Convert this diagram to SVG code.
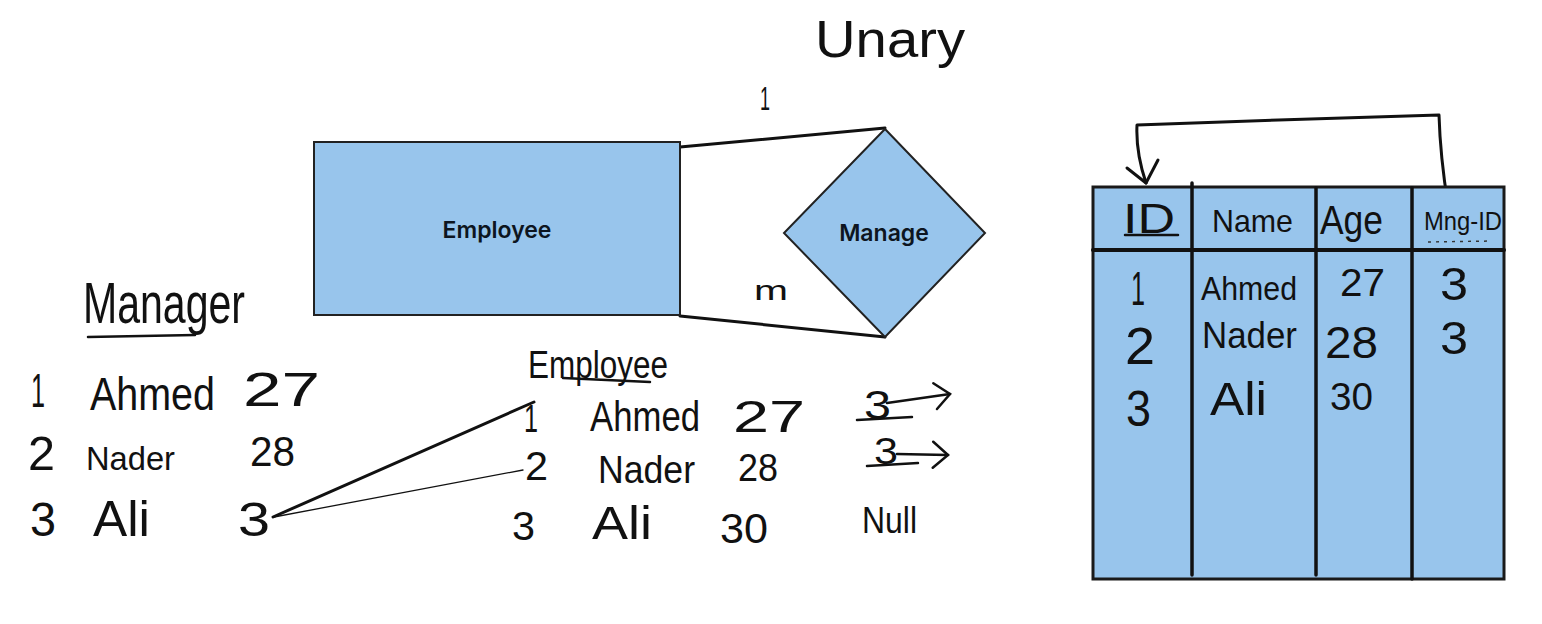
<svg xmlns="http://www.w3.org/2000/svg" width="1542" height="624" viewBox="0 0 1542 624">
<style>
.hw{font-family:"Liberation Sans","DejaVu Sans",sans-serif;fill:#111;}
.lbl{font-family:Inter,"Open Sans",sans-serif;font-weight:600;font-size:23px;fill:#0d1520;text-anchor:middle;}
.shape{fill:#98c5ec;stroke:#222;stroke-width:2;}
.ink{fill:none;stroke:#111;stroke-linecap:round;stroke-linejoin:round;}
</style>
<defs>
<marker id="openv" viewBox="0 0 20 30" refX="18" refY="15" markerWidth="20" markerHeight="30" markerUnits="userSpaceOnUse" orient="auto">
<path d="M3,2 L18,15 L3,28" fill="none" stroke="#111" stroke-width="2.5" stroke-linecap="round"/>
</marker>
</defs>
<rect width="1542" height="624" fill="#fff"/>

<g id="title">
<text class="hw" x="815" y="57" font-size="52" textLength="150" lengthAdjust="spacingAndGlyphs">Unary</text>
</g>

<g id="connectors">
<path class="ink" d="M680,147 L885,128" stroke-width="3"/>
<path class="ink" d="M680,316 L885,337" stroke-width="3"/>
<path class="ink" d="M273,517 L534,402" stroke-width="3"/>
<path class="ink" d="M274,517 L523,470" stroke-width="1.3"/>
<path class="ink" d="M1448,205 C1444,180 1440,150 1439,115 C1350,118 1230,121 1137,125 C1136,145 1140,165 1146,183" stroke-width="3"/>
<path class="ink" d="M1127,168 L1146,183 L1158,160" stroke-width="3"/>
</g>

<g id="employee">
<rect class="shape" x="314" y="142" width="366" height="173"/>
<text class="lbl" x="497" y="238">Employee</text>
</g>

<g id="manage">
<polygon class="shape" points="885,129 985,233 885,337 784,233"/>
<text class="lbl" x="884" y="241">Manage</text>
</g>

<g id="cardinalities">
<text class="hw" x="760" y="110" font-size="34" textLength="10" lengthAdjust="spacingAndGlyphs">1</text>
<text class="hw" x="754" y="300" font-size="28" textLength="34" lengthAdjust="spacingAndGlyphs">m</text>
</g>

<g id="manager-list">
<text class="hw" x="83" y="323" font-size="58" textLength="162" lengthAdjust="spacingAndGlyphs">Manager</text>
<line class="ink" x1="88" y1="337" x2="195" y2="335" stroke-width="2.5"/>
<text class="hw" x="31" y="407" font-size="48" textLength="14" lengthAdjust="spacingAndGlyphs">1</text>
<text class="hw" x="90" y="410" font-size="46" textLength="125" lengthAdjust="spacingAndGlyphs">Ahmed</text>
<text class="hw" x="243" y="406" font-size="48" textLength="77" lengthAdjust="spacingAndGlyphs">27</text>
<text class="hw" x="28" y="470" font-size="48" textLength="27" lengthAdjust="spacingAndGlyphs">2</text>
<text class="hw" x="86" y="470" font-size="34" textLength="89" lengthAdjust="spacingAndGlyphs">Nader</text>
<text class="hw" x="250" y="466" font-size="42" textLength="45" lengthAdjust="spacingAndGlyphs">28</text>
<text class="hw" x="30" y="536" font-size="48" textLength="26" lengthAdjust="spacingAndGlyphs">3</text>
<text class="hw" x="93" y="536" font-size="50" textLength="57" lengthAdjust="spacingAndGlyphs">Ali</text>
<text class="hw" x="238" y="536" font-size="48" textLength="32" lengthAdjust="spacingAndGlyphs">3</text>
</g>

<g id="employee-list">
<text class="hw" x="528" y="378" font-size="38" textLength="140" lengthAdjust="spacingAndGlyphs">Employee</text>
<line class="ink" x1="563" y1="378" x2="650" y2="382" stroke-width="2.5"/>
<text class="hw" x="524" y="432" font-size="38" textLength="14" lengthAdjust="spacingAndGlyphs">1</text>
<text class="hw" x="590" y="431" font-size="42" textLength="110" lengthAdjust="spacingAndGlyphs">Ahmed</text>
<text class="hw" x="733" y="432" font-size="44" textLength="72" lengthAdjust="spacingAndGlyphs">27</text>
<text class="hw" x="525" y="480" font-size="40" textLength="23" lengthAdjust="spacingAndGlyphs">2</text>
<text class="hw" x="598" y="483" font-size="38" textLength="97" lengthAdjust="spacingAndGlyphs">Nader</text>
<text class="hw" x="738" y="481" font-size="38" textLength="40" lengthAdjust="spacingAndGlyphs">28</text>
<text class="hw" x="512" y="540" font-size="40" textLength="23" lengthAdjust="spacingAndGlyphs">3</text>
<text class="hw" x="592" y="539" font-size="46" textLength="60" lengthAdjust="spacingAndGlyphs">Ali</text>
<text class="hw" x="720" y="543" font-size="42" textLength="48" lengthAdjust="spacingAndGlyphs">30</text>
<text class="hw" x="864" y="419" font-size="40" textLength="27" lengthAdjust="spacingAndGlyphs">3</text>
<line class="ink" x1="857" y1="420" x2="912" y2="417" stroke-width="2.5"/>
<line class="ink" x1="887" y1="403" x2="950" y2="394" stroke-width="2.5" marker-end="url(#openv)"/>
<text class="hw" x="874" y="464" font-size="36" textLength="24" lengthAdjust="spacingAndGlyphs">3</text>
<line class="ink" x1="867" y1="466" x2="918" y2="463" stroke-width="2.5"/>
<line class="ink" x1="897" y1="454" x2="948" y2="455" stroke-width="2.5" marker-end="url(#openv)"/>
<text class="hw" x="862" y="533" font-size="36" textLength="55" lengthAdjust="spacingAndGlyphs">Null</text>
</g>

<g id="table">
<rect x="1093" y="187" width="411" height="392" fill="#98c5ec" stroke="#1a1a1a" stroke-width="3"/>
<line class="ink" x1="1093" y1="250" x2="1504" y2="250" stroke-width="4"/>
<line class="ink" x1="1192" y1="183" x2="1192" y2="575" stroke-width="3.5"/>
<line class="ink" x1="1316" y1="188" x2="1316" y2="575" stroke-width="3.5"/>
<line class="ink" x1="1412" y1="188" x2="1412" y2="579" stroke-width="3.5"/>
<text class="hw" x="1123" y="233" font-size="42" textLength="52" lengthAdjust="spacingAndGlyphs">ID</text>
<line class="ink" x1="1125" y1="235" x2="1178" y2="235" stroke-width="2.5"/>
<text class="hw" x="1212" y="232" font-size="32" textLength="81" lengthAdjust="spacingAndGlyphs">Name</text>
<text class="hw" x="1320" y="234" font-size="40" textLength="63" lengthAdjust="spacingAndGlyphs">Age</text>
<text class="hw" x="1424" y="230" font-size="26" textLength="78" lengthAdjust="spacingAndGlyphs">Mng-ID</text>
<line x1="1428" y1="242" x2="1492" y2="241" stroke="#333" stroke-width="1.5" stroke-dasharray="3,5"/>
<text class="hw" x="1131" y="305" font-size="48" textLength="14" lengthAdjust="spacingAndGlyphs">1</text>
<text class="hw" x="1201" y="300" font-size="34" textLength="96" lengthAdjust="spacingAndGlyphs">Ahmed</text>
<text class="hw" x="1340" y="296" font-size="38" textLength="45" lengthAdjust="spacingAndGlyphs">27</text>
<text class="hw" x="1440" y="300" font-size="46" textLength="28" lengthAdjust="spacingAndGlyphs">3</text>
<text class="hw" x="1125" y="364" font-size="52" textLength="30" lengthAdjust="spacingAndGlyphs">2</text>
<text class="hw" x="1202" y="348" font-size="36" textLength="95" lengthAdjust="spacingAndGlyphs">Nader</text>
<text class="hw" x="1325" y="358" font-size="44" textLength="53" lengthAdjust="spacingAndGlyphs">28</text>
<text class="hw" x="1440" y="354" font-size="46" textLength="28" lengthAdjust="spacingAndGlyphs">3</text>
<text class="hw" x="1126" y="426" font-size="50" textLength="25" lengthAdjust="spacingAndGlyphs">3</text>
<text class="hw" x="1210" y="415" font-size="46" textLength="57" lengthAdjust="spacingAndGlyphs">Ali</text>
<text class="hw" x="1330" y="410" font-size="38" textLength="43" lengthAdjust="spacingAndGlyphs">30</text>
</g>
</svg>
